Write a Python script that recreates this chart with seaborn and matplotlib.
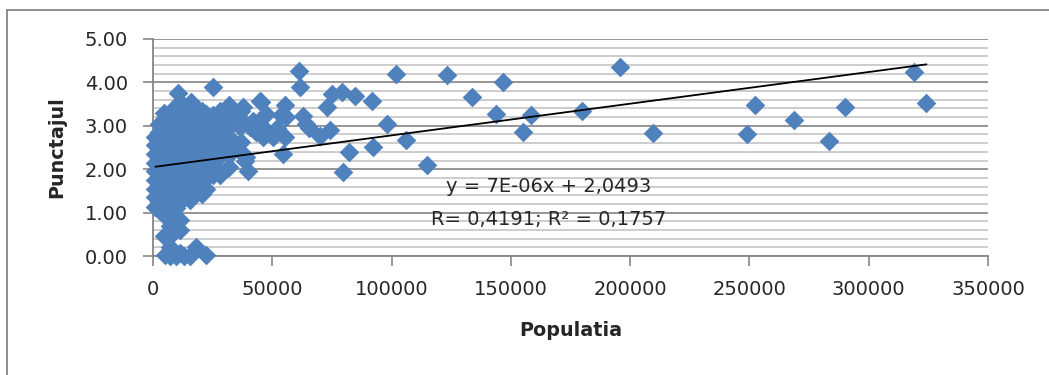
import numpy as np
import pandas as pd
import matplotlib
matplotlib.use("Agg")
import matplotlib.pyplot as plt
from matplotlib.lines import Line2D
from matplotlib.ticker import MultipleLocator, FormatStrFormatter, FuncFormatter
import seaborn as sns


# ─── Data ───────────────────────────────────────────────────────────────────
# dense block of small localities, read column by column
block_pop = [1000, 2500, 4500, 7000, 9500, 11500, 13000, 15500,
             18000, 20500, 22400, 25000, 28000, 32000, 37000]
block_scores = [
    [1.13, 1.35, 1.55, 1.75, 1.95, 2.15, 2.35, 2.55, 2.75],
    [1.05, 1.25, 1.45, 1.65, 1.85, 2.05, 2.25, 2.45, 2.65, 2.85, 3.05],
    [0.45, 0.95, 1.15, 1.40, 1.60, 1.80, 2.00, 2.20, 2.40, 2.60, 2.80, 3.00, 3.30],
    [0.00, 0.20, 0.45, 0.70, 1.00, 1.25, 1.50, 1.70, 1.90, 2.10, 2.30, 2.50, 2.70, 2.90, 3.10, 3.25],
    [0.00, 0.05, 1.10, 1.40, 1.65, 1.90, 2.15, 2.40, 2.60, 2.80, 3.00, 3.20, 3.45],
    [0.06, 0.59, 0.82, 1.25, 1.50, 1.75, 2.00, 2.25, 2.50, 2.70, 2.90, 3.10, 3.30],
    [0.00, 1.35, 1.60, 1.85, 2.10, 2.35, 2.55, 2.75, 2.95, 3.20, 3.45],
    [0.00, 1.30, 1.55, 1.80, 2.05, 2.30, 2.50, 2.70, 2.90, 3.10, 3.30],
    [0.21, 1.45, 1.67, 1.90, 2.15, 2.40, 2.60, 2.80, 3.00, 3.20, 3.40],
    [1.43, 1.70, 1.95, 2.20, 2.45, 2.65, 2.85, 3.05, 3.35],
    [0.02, 1.55, 1.80, 2.10, 2.40, 2.60, 2.80, 3.00, 3.27],
    [1.86, 2.05, 2.25, 2.45, 2.65, 2.85, 3.05, 3.25, 3.89],
    [1.86, 1.97, 2.30, 2.55, 2.75, 2.95, 3.15, 3.35],
    [2.05, 2.32, 2.55, 2.75, 2.97, 3.20, 3.47],
    [2.40, 2.62, 3.15, 3.35],
]

# individual points
single_pop = [4900, 10500, 16100, 36300, 37700, 38400, 39100, 39800,
              40500, 41900, 42000, 43000, 44700, 45400, 46100, 46100,
              46800, 47500, 50300, 52000, 53800, 54500, 55200, 55200, 55900,
              61000, 61500, 63000, 64200, 65200, 69800, 72800, 74000, 75000,
              79200, 79500, 82200, 84500, 92000, 92100, 98200, 102000,
              106200, 114800, 123200, 133700, 143900, 146800, 155100,
              158500, 179900, 195900, 209500, 248900, 252500, 268800,
              283200, 289900, 318900, 324200]
single_score = [0.02, 3.75, 3.54, 2.97, 3.43, 2.20, 2.28, 1.97,
                2.97, 2.97, 3.10, 2.85, 3.58, 3.54, 3.20, 2.74,
                2.93, 3.28, 2.74, 2.95, 3.24, 2.36, 2.74, 3.47, 3.20,
                4.26, 3.90, 3.22, 3.05, 2.95, 2.76, 3.43, 2.90, 3.73,
                3.78, 1.93, 2.40, 3.68, 3.58, 2.52, 3.05, 4.20,
                2.68, 2.09, 4.16, 3.67, 3.27, 4.00, 2.85,
                3.26, 3.35, 4.35, 2.84, 2.82, 3.49, 3.14,
                2.64, 3.43, 4.23, 3.52]

# Excel linear trendline
trend_slope = 7.3e-06
trend_intercept = 2.0493
trend_text = ["y = 7E-06x + 2,0493", "R= 0,4191; R² = 0,1757"]

pop = np.concatenate([np.repeat(block_pop, [len(s) for s in block_scores]), single_pop])
score = np.concatenate([np.concatenate(block_scores), single_score])
df = pd.DataFrame({"Populatia": pop, "Punctajul": score})


# ─── Plot ───────────────────────────────────────────────────────────────────
sns.set_style("white")
plt.rcParams['font.family'] = ['DejaVu Sans']

W, H = 1049, 375
fig = plt.figure(figsize=(W / 100, H / 100), dpi=100)
ax = fig.add_axes([153 / W, 1 - 256 / H, (988 - 153) / W, (256 - 39) / H])

sns.scatterplot(data=df, x="Populatia", y="Punctajul", marker="D", s=100,
                color="#4F81BD", linewidth=0, ax=ax, zorder=3, clip_on=False)

xs = np.array([df["Populatia"].min(), df["Populatia"].max()])
ax.plot(xs, trend_intercept + trend_slope * xs, color="black", lw=1.3, zorder=4)

ax.set_xlim(0, 350000)
ax.set_ylim(0, 5)
ax.xaxis.set_major_locator(MultipleLocator(50000))
ax.xaxis.set_major_formatter(FuncFormatter(lambda v, p: f"{int(v)}"))
ax.yaxis.set_major_locator(MultipleLocator(1))
ax.yaxis.set_minor_locator(MultipleLocator(0.2))
ax.yaxis.set_major_formatter(FormatStrFormatter('%.2f'))

ax.set_axisbelow(True)
ax.grid(True, which='minor', axis='y', color='#C0C0C0', lw=1.1)
ax.grid(True, which='major', axis='y', color='#8C8C8C', lw=1.3)
ax.grid(False, axis='x')

ax.tick_params(axis='both', which='major', left=True, bottom=True, direction='out',
               length=7, width=1.2, color='#868686', labelsize=14)
ax.tick_params(axis='y', which='major', pad=11)
ax.tick_params(axis='x', which='major', pad=10)
ax.tick_params(axis='y', which='minor', left=False, length=0)

for side in ['top', 'right']:
    ax.spines[side].set_visible(False)
for side in ['left', 'bottom']:
    ax.spines[side].set_color('#868686')
    ax.spines[side].set_linewidth(1.3)

ax.set_xlabel("Populatia", fontsize=13.8, fontweight='bold', va='center')
ax.set_ylabel("Punctajul", fontsize=13.8, fontweight='bold', va='center')
ax.xaxis.set_label_coords(0.5, (256 - 331) / 217)
ax.yaxis.set_label_coords((57 - 153) / 835, 0.5)

ax.text(0.474, 0.319, trend_text[0], transform=ax.transAxes, fontsize=14,
        ha='center', va='center', zorder=5)
ax.text(0.474, 0.170, trend_text[1], transform=ax.transAxes, fontsize=14,
        ha='center', va='center', zorder=5)

# chart area border (only top and left edges fall inside the picture)
fig.add_artist(Line2D([7 / W, 7 / W], [0, 1 - 10 / H], transform=fig.transFigure,
                      color='#868686', lw=1.3))
fig.add_artist(Line2D([7 / W, 1], [1 - 10 / H, 1 - 10 / H], transform=fig.transFigure,
                      color='#868686', lw=1.3))

fig.savefig("out.png", dpi=100)
